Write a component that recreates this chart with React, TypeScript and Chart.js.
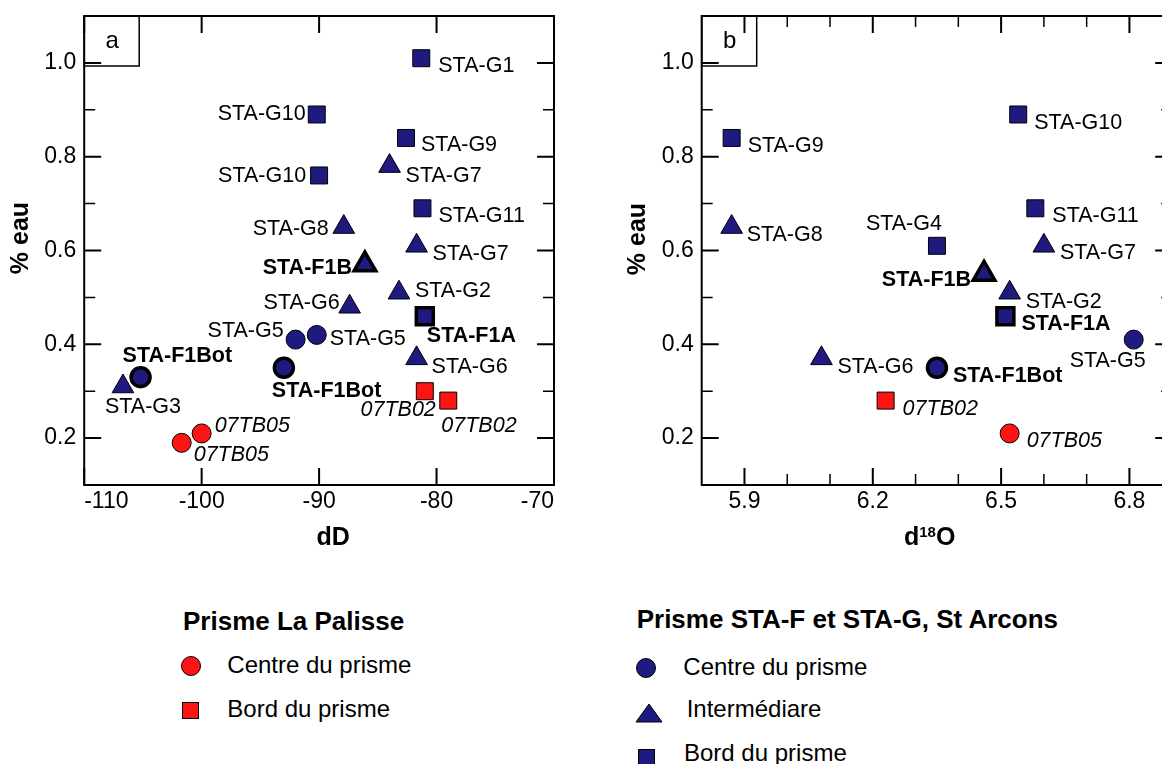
import React, { useEffect, useRef } from "react";
import { Chart, registerables } from "chart.js";

Chart.register(...registerables);

// ---------------- DATA: panel a (dD vs % eau) ----------------
const A_LP_CENTRE_NAMES = ["07TB05", "07TB05"];
const A_LP_CENTRE_X = [-100, -101.7];
const A_LP_CENTRE_Y = [0.21, 0.19];

const A_LP_BORD_NAMES = ["07TB02", "07TB02"];
const A_LP_BORD_X = [-81, -79];
const A_LP_BORD_Y = [0.3, 0.28];

const A_STA_CENTRE_NAMES = ["STA-G5", "STA-G5", "STA-F1Bot", "STA-F1Bot"];
const A_STA_CENTRE_X = [-92, -90.2, -93, -105.2];
const A_STA_CENTRE_Y = [0.41, 0.42, 0.35, 0.33];

const A_STA_INTER_NAMES = ["STA-G7", "STA-G8", "STA-G7", "STA-F1B", "STA-G2", "STA-G6", "STA-G6", "STA-G3"];
const A_STA_INTER_X = [-84, -87.9, -81.7, -86.1, -83.2, -87.4, -81.7, -106.7];
const A_STA_INTER_Y = [0.78, 0.65, 0.61, 0.57, 0.51, 0.48, 0.37, 0.31];

const A_STA_BORD_NAMES = ["STA-G1", "STA-G10", "STA-G9", "STA-G10", "STA-G11", "STA-F1A"];
const A_STA_BORD_X = [-81.3, -90.2, -82.6, -90, -81.2, -81];
const A_STA_BORD_Y = [1.01, 0.89, 0.84, 0.76, 0.69, 0.46];

// ---------------- DATA: panel b (d18O vs % eau) ----------------
const B_LP_CENTRE_NAMES = ["07TB05"];
const B_LP_CENTRE_X = [6.52];
const B_LP_CENTRE_Y = [0.21];

const B_LP_BORD_NAMES = ["07TB02"];
const B_LP_BORD_X = [6.23];
const B_LP_BORD_Y = [0.28];

const B_STA_CENTRE_NAMES = ["STA-G5", "STA-F1Bot"];
const B_STA_CENTRE_X = [6.81, 6.35];
const B_STA_CENTRE_Y = [0.41, 0.35];

const B_STA_INTER_NAMES = ["STA-G8", "STA-G7", "STA-F1B", "STA-G2", "STA-G6"];
const B_STA_INTER_X = [5.87, 6.6, 6.46, 6.52, 6.08];
const B_STA_INTER_Y = [0.65, 0.61, 0.55, 0.51, 0.37];

const B_STA_BORD_NAMES = ["STA-G9", "STA-G10", "STA-G11", "STA-G4", "STA-F1A"];
const B_STA_BORD_X = [5.87, 6.54, 6.58, 6.35, 6.51];
const B_STA_BORD_Y = [0.84, 0.89, 0.69, 0.61, 0.46];

// ---------------- TICKS ----------------
const A_X_TICKS = [-110, -100, -90, -80, -70];
const A_X_MINOR: number[] = [];
const B_X_TICKS = [5.9, 6.2, 6.5, 6.8];
const B_X_MINOR = [6.0, 6.1, 6.3, 6.4, 6.6, 6.7];
const Y_TICKS = [0.2, 0.4, 0.6, 0.8, 1.0];
const Y_MINOR = [0.3, 0.5, 0.7, 0.9];

// ---------------- TEXT ----------------
const Y_TITLE = "% eau";
const A_X_TITLE = [{ t: "dD", s: 25, r: 0 }];
const B_X_TITLE = [
  { t: "d", s: 25, r: 0 },
  { t: "18", s: 15, r: 8 },
  { t: "O", s: 25, r: 0 },
];
const LEGEND_LEFT_TITLE = "Prisme La Palisse";
const LEGEND_LEFT_ITEMS = ["Centre du prisme", "Bord du prisme"];
const LEGEND_RIGHT_TITLE = "Prisme STA-F et STA-G, St Arcons";
const LEGEND_RIGHT_ITEMS = ["Centre du prisme", "Intermédiare", "Bord du prisme"];

// ---------------- LABEL PLACEMENT (style, not data) ----------------
type LP = [number, number, "l" | "r"];
const A_LP_CENTRE_LBL: LP[] = [[13, -1, "l"], [12, 18, "l"]];
const A_LP_BORD_LBL: LP[] = [[11, 25, "r"], [-7, 31, "l"]];
const A_STA_CENTRE_LBL: LP[] = [[-12, -3, "r"], [13, 10, "l"], [-12, 29, "l"], [-18, -15, "l"]];
const A_STA_INTER_LBL: LP[] = [[16, 16, "l"], [-15, 8, "r"], [16, 14, "l"], [-13, 9, "r"], [16, 4, "l"], [-10, 2, "r"], [15, 15, "l"], [-18, 26, "l"]];
const A_STA_BORD_LBL: LP[] = [[17, 14, "l"], [-11, 6, "r"], [15, 13, "l"], [-13, 7, "r"], [16, 14, "l"], [2, 26, "l"]];

const B_LP_CENTRE_LBL: LP[] = [[17, 14, "l"]];
const B_LP_BORD_LBL: LP[] = [[17, 14, "l"]];
const B_STA_CENTRE_LBL: LP[] = [[12, 27, "r"], [16, 14, "l"]];
const B_STA_INTER_LBL: LP[] = [[15, 14, "l"], [16, 13, "l"], [-13, 12, "r"], [16, 15, "l"], [16, 15, "l"]];
const B_STA_BORD_LBL: LP[] = [[16, 14, "l"], [16, 15, "l"], [17, 14, "l"], [5, -16, "r"], [16, 14, "l"]];

// ---------------- STYLE ----------------
const FONT = '"Liberation Sans", Arial, Helvetica, sans-serif';
const NAVY = "#1f1a80";
const RED = "#ff1414";

type Group = {
  names: string[];
  xs: number[];
  ys: number[];
  lbl: LP[];
  style: "circle" | "rect" | "triangle";
  color: string;
};

function markerR(s: string) {
  return s === "circle" ? 9.5 : s === "rect" ? 12 : 12.5;
}

type Spec = {
  letter: string;
  xMin: number;
  xMax: number;
  xTicks: number[];
  xMinor: number[];
  xDec: number;
  xAlign: "inner" | "center";
  yAxisWidth: number;
  rightPad: number;
  xTitle: { t: string; s: number; r: number }[];
  xTitleDx: number;
  yTitleDx: number;
  yTitleDy: number;
  groups: Group[];
};

const SPEC_A: Spec = {
  letter: "a",
  xMin: -110,
  xMax: -70,
  xTicks: A_X_TICKS,
  xMinor: A_X_MINOR,
  xDec: 0,
  xAlign: "inner",
  yAxisWidth: 84.2,
  rightPad: 600 - 554,
  xTitle: A_X_TITLE,
  xTitleDx: 249,
  yTitleDx: -63,
  yTitleDy: 222,
  groups: [
    { names: A_LP_CENTRE_NAMES, xs: A_LP_CENTRE_X, ys: A_LP_CENTRE_Y, lbl: A_LP_CENTRE_LBL, style: "circle", color: RED },
    { names: A_LP_BORD_NAMES, xs: A_LP_BORD_X, ys: A_LP_BORD_Y, lbl: A_LP_BORD_LBL, style: "rect", color: RED },
    { names: A_STA_CENTRE_NAMES, xs: A_STA_CENTRE_X, ys: A_STA_CENTRE_Y, lbl: A_STA_CENTRE_LBL, style: "circle", color: NAVY },
    { names: A_STA_INTER_NAMES, xs: A_STA_INTER_X, ys: A_STA_INTER_Y, lbl: A_STA_INTER_LBL, style: "triangle", color: NAVY },
    { names: A_STA_BORD_NAMES, xs: A_STA_BORD_X, ys: A_STA_BORD_Y, lbl: A_STA_BORD_LBL, style: "rect", color: NAVY },
  ],
};

const SPEC_B: Spec = {
  letter: "b",
  xMin: 5.8,
  xMax: 6.9,
  xTicks: B_X_TICKS,
  xMinor: B_X_MINOR,
  xDec: 1,
  xAlign: "center",
  yAxisWidth: 101.7,
  rightPad: 1200 - 1172.2,
  xTitle: B_X_TITLE,
  xTitleDx: 228,
  yTitleDx: -64,
  yTitleDy: 223,
  groups: [
    { names: B_LP_CENTRE_NAMES, xs: B_LP_CENTRE_X, ys: B_LP_CENTRE_Y, lbl: B_LP_CENTRE_LBL, style: "circle", color: RED },
    { names: B_LP_BORD_NAMES, xs: B_LP_BORD_X, ys: B_LP_BORD_Y, lbl: B_LP_BORD_LBL, style: "rect", color: RED },
    { names: B_STA_CENTRE_NAMES, xs: B_STA_CENTRE_X, ys: B_STA_CENTRE_Y, lbl: B_STA_CENTRE_LBL, style: "circle", color: NAVY },
    { names: B_STA_INTER_NAMES, xs: B_STA_INTER_X, ys: B_STA_INTER_Y, lbl: B_STA_INTER_LBL, style: "triangle", color: NAVY },
    { names: B_STA_BORD_NAMES, xs: B_STA_BORD_X, ys: B_STA_BORD_Y, lbl: B_STA_BORD_LBL, style: "rect", color: NAVY },
  ],
};

const isBold = (n: string) => n.startsWith("STA-F");
const isItalic = (n: string) => n.startsWith("07");

function makePlugin(spec: Spec) {
  return {
    id: "decor" + spec.letter,
    beforeDatasetsDraw(chart: any) {
      const { ctx, chartArea: ca, scales } = chart;
      const xs = scales.x;
      const ys = scales.y;
      ctx.save();
      ctx.strokeStyle = "#000";
      const vTick = (v: number, len: number, lw: number) => {
        const px = xs.getPixelForValue(v);
        ctx.lineWidth = lw;
        ctx.beginPath();
        ctx.moveTo(px, ca.bottom);
        ctx.lineTo(px, ca.bottom - len);
        ctx.moveTo(px, ca.top);
        ctx.lineTo(px, ca.top + len);
        ctx.stroke();
      };
      const hTick = (v: number, len: number, lw: number) => {
        const py = ys.getPixelForValue(v);
        ctx.lineWidth = lw;
        ctx.beginPath();
        ctx.moveTo(ca.left, py);
        ctx.lineTo(ca.left + len, py);
        ctx.moveTo(ca.right, py);
        ctx.lineTo(ca.right - len, py);
        ctx.stroke();
      };
      spec.xTicks.forEach((v) => vTick(v, 17, 2));
      spec.xMinor.forEach((v) => vTick(v, 11, 1.5));
      Y_TICKS.forEach((v) => hTick(v, 17, 2));
      Y_MINOR.forEach((v) => hTick(v, 11, 1.5));
      ctx.lineWidth = 2;
      ctx.strokeRect(ca.left, ca.top, ca.right - ca.left, ca.bottom - ca.top);
      // panel letter box
      ctx.lineWidth = 1.5;
      ctx.strokeRect(ca.left, ca.top, 55, 50);
      ctx.fillStyle = "#000";
      ctx.font = `24px ${FONT}`;
      ctx.textAlign = "center";
      ctx.textBaseline = "middle";
      ctx.fillText(spec.letter, ca.left + 28, ca.top + 25);
      ctx.restore();
    },
    afterDatasetsDraw(chart: any) {
      const { ctx } = chart;
      ctx.save();
      ctx.fillStyle = "#000";
      ctx.textBaseline = "alphabetic";
      chart.data.datasets.forEach((ds: any, di: number) => {
        const meta = chart.getDatasetMeta(di);
        meta.data.forEach((pt: any, i: number) => {
          const name = ds.names[i];
          const [dx, dy, al] = ds.lbl[i];
          const style = isItalic(name) ? "italic " : "";
          const weight = isBold(name) ? "bold " : "";
          ctx.font = `${style}${weight}21.5px ${FONT}`;
          ctx.textAlign = al === "r" ? "right" : "left";
          ctx.fillText(name, pt.x + dx, pt.y + dy);
        });
      });
      ctx.restore();
    },
    afterDraw(chart: any) {
      const { ctx, chartArea: ca } = chart;
      ctx.save();
      ctx.fillStyle = "#000";
      // x title
      let total = 0;
      spec.xTitle.forEach((p) => {
        ctx.font = `bold ${p.s}px ${FONT}`;
        total += ctx.measureText(p.t).width;
      });
      let x = ca.left + spec.xTitleDx - total / 2;
      const base = ca.bottom + 60;
      ctx.textAlign = "left";
      ctx.textBaseline = "alphabetic";
      spec.xTitle.forEach((p) => {
        ctx.font = `bold ${p.s}px ${FONT}`;
        ctx.fillText(p.t, x, base - p.r);
        x += ctx.measureText(p.t).width;
      });
      // y title
      ctx.translate(ca.left + spec.yTitleDx, ca.top + spec.yTitleDy);
      ctx.rotate(-Math.PI / 2);
      ctx.font = `bold 25px ${FONT}`;
      ctx.textAlign = "center";
      ctx.textBaseline = "middle";
      ctx.fillText(Y_TITLE, 0, 0);
      ctx.restore();
    },
  };
}

function buildConfig(spec: Spec): any {
  const datasets = spec.groups.map((g) => ({
    data: g.xs.map((x, i) => ({ x, y: g.ys[i] })),
    names: g.names,
    lbl: g.lbl,
    showLine: false,
    clip: false,
    pointStyle: g.style,
    pointRadius: markerR(g.style),
    pointBackgroundColor: g.color,
    pointBorderColor: "#000",
    pointBorderWidth: (c: any) =>
      c.dataIndex !== undefined && g.names[c.dataIndex] && isBold(g.names[c.dataIndex]) ? 3.5 : 1,
  }));
  return {
    type: "scatter",
    data: { datasets },
    options: {
      animation: false,
      responsive: false,
      events: [],
      layout: { padding: { left: 0, top: 15, right: spec.rightPad, bottom: 0 } },
      plugins: { legend: { display: false }, tooltip: { enabled: false } },
      scales: {
        x: {
          type: "linear",
          min: spec.xMin,
          max: spec.xMax,
          afterBuildTicks: (s: any) => {
            s.ticks = spec.xTicks.map((v) => ({ value: v }));
          },
          ticks: {
            autoSkip: false,
            maxRotation: 0,
            minRotation: 0,
            align: spec.xAlign,
            padding: 3,
            color: "#000",
            font: { family: FONT, size: 23 },
            callback: (v: any) => Number(v).toFixed(spec.xDec),
          },
          grid: { display: false, drawTicks: false },
          border: { display: false },
          afterFit: (s: any) => {
            s.height = 75;
            s.paddingLeft = 0;
            s.paddingRight = 0;
          },
        },
        y: {
          type: "linear",
          min: 0.1,
          max: 1.1,
          afterBuildTicks: (s: any) => {
            s.ticks = Y_TICKS.map((v) => ({ value: v }));
          },
          ticks: {
            autoSkip: false,
            padding: 8,
            color: "#000",
            font: { family: FONT, size: 23 },
            callback: (v: any) => Number(v).toFixed(1),
          },
          grid: { display: false, drawTicks: false },
          border: { display: false },
          afterFit: (s: any) => {
            s.width = spec.yAxisWidth;
            s.paddingTop = 0;
            s.paddingBottom = 0;
          },
        },
      },
    },
    plugins: [makePlugin(spec)],
  };
}

function Panel({ spec, left }: { spec: Spec; left: number }) {
  const ref = useRef<HTMLCanvasElement>(null);
  useEffect(() => {
    const chart = new Chart(ref.current as HTMLCanvasElement, buildConfig(spec));
    return () => chart.destroy();
  }, [spec]);
  return (
    <canvas
      ref={ref}
      width={600}
      height={560}
      style={{ position: "absolute", left, top: 0, width: 600, height: 560 }}
    />
  );
}

function Txt({ text, left, baseline, size, bold }: { text: string; left: number; baseline: number; size: number; bold?: boolean }) {
  return (
    <div
      style={{
        position: "absolute",
        left,
        top: baseline - 0.8465 * size,
        fontFamily: FONT,
        fontSize: size,
        lineHeight: 1,
        fontWeight: bold ? "bold" : "normal",
        whiteSpace: "nowrap",
        color: "#000",
      }}
    >
      {text}
    </div>
  );
}

function Marker({ kind, cx, cy, color }: { kind: "circle" | "rect" | "triangle"; cx: number; cy: number; color: string }) {
  if (kind === "triangle") {
    const w = 26;
    const h = 18;
    return (
      <svg style={{ position: "absolute", left: cx - w / 2 - 1, top: cy - h / 2 - 1 }} width={w + 2} height={h + 2}>
        <polygon points={`${w / 2 + 1},1 ${w + 1},${h + 1} 1,${h + 1}`} fill={color} stroke="#000" strokeWidth={1} />
      </svg>
    );
  }
  const size = kind === "circle" ? 20 : 17;
  return (
    <div
      style={{
        position: "absolute",
        left: cx - size / 2,
        top: cy - size / 2,
        width: size,
        height: size,
        boxSizing: "border-box",
        border: "1px solid #000",
        borderRadius: kind === "circle" ? "50%" : 0,
        background: color,
      }}
    />
  );
}

export default function App() {
  return (
    <div
      style={{
        position: "fixed",
        left: 0,
        top: 0,
        width: 1162,
        height: 764,
        overflow: "hidden",
        background: "#fff",
      }}
    >
      <Panel spec={SPEC_A} left={0} />
      <Panel spec={SPEC_B} left={600} />

      <Txt text={LEGEND_LEFT_TITLE} left={183} baseline={630} size={26} bold />
      <Marker kind="circle" cx={190.7} cy={666} color={RED} />
      <Txt text={LEGEND_LEFT_ITEMS[0]} left={227.3} baseline={673.3} size={24} />
      <Marker kind="rect" cx={190.7} cy={710} color={RED} />
      <Txt text={LEGEND_LEFT_ITEMS[1]} left={227.3} baseline={717.3} size={24} />

      <Txt text={LEGEND_RIGHT_TITLE} left={636.7} baseline={628.3} size={26} bold />
      <Marker kind="circle" cx={646} cy={667.7} color={NAVY} />
      <Txt text={LEGEND_RIGHT_ITEMS[0]} left={683.3} baseline={675} size={24} />
      <Marker kind="triangle" cx={649.3} cy={713.3} color={NAVY} />
      <Txt text={LEGEND_RIGHT_ITEMS[1]} left={686.7} baseline={717.7} size={24} />
      <Marker kind="rect" cx={646} cy={757.7} color={NAVY} />
      <Txt text={LEGEND_RIGHT_ITEMS[2]} left={684} baseline={761.7} size={24} />
    </div>
  );
}
